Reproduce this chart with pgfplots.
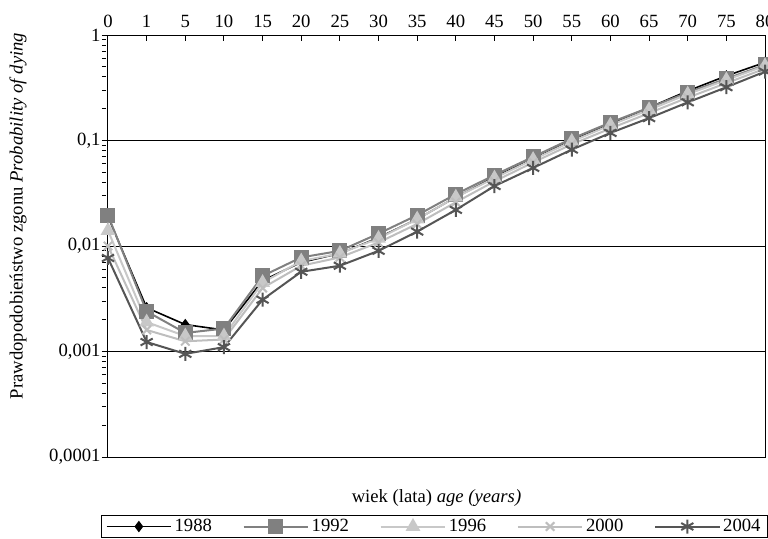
\documentclass[border=0pt]{standalone}
\usepackage{pgfplots}
\pgfplotsset{compat=1.18}
\usepackage{fontspec}
\setmainfont{Liberation Serif}
\newlength{\px}\setlength{\px}{0.75pt}
\definecolor{c88}{RGB}{0,0,0}
\definecolor{c92}{RGB}{128,128,128}
\definecolor{c96}{RGB}{200,200,200}
\definecolor{c00}{RGB}{190,190,190}
\definecolor{c04}{RGB}{85,85,85}
\begin{document}
\begin{tikzpicture}
\fontsize{14}{16.5}\selectfont
\begin{axis}[
  name=ax,
  scale only axis,
  width=657\px, height=422\px,
  ymode=log,
  ymin=1e-4, ymax=1,
  xmin=0, xmax=17,
  xtick={0,...,17},
  xticklabels={0,1,5,10,15,20,25,30,35,40,45,50,55,60,65,70,75,80},
  xticklabel pos=upper, xtick pos=upper,
  ytick pos=left,
  ytick={1e-4,1e-3,1e-2,0.1,1},
  yticklabels={{0,0001},{0,001},{0,01},{0,1},1},
  minor ytick={},
  ymajorgrids,
  major grid style={black, line width=0.8\px},
  axis line style={black, line width=1\px},
  major tick length=6\px,
  every tick/.style={black, line width=1\px},
  y tick style={xshift=-6\px},
  tick label style={font=\fontsize{14}{16.5}\selectfont},
  xticklabel style={yshift=1\px},
  yticklabel style={xshift=-1\px},
  xlabel={wiek (lata) \textit{age (years)}},
  xlabel style={at={(axis description cs:0.5,-0.098)}, anchor=center, font=\fontsize{14}{16.5}\selectfont},
  ylabel={Prawdopodobieństwo zgonu \textit{Probability of dying}},
  ylabel style={at={(axis description cs:-0.137,0.571)}, anchor=center, font=\fontsize{14}{16.5}\selectfont},
  clip=false,
  legend columns=5,
  legend style={at={(axis description cs:0.497,-0.138)}, anchor=north, draw=black, line width=1\px,
    font=\fontsize{14}{16.5}\selectfont, inner xsep=4\px, inner ysep=0.5\px,
    /tikz/every even column/.append style={column sep=28\px}},
  legend image code/.code={\draw[mark repeat=2,mark phase=2] plot coordinates {(0cm,0cm) (0.85cm,0cm) (1.7cm,0cm)};},
]
\addplot[c88, line width=1.6\px, mark=diamond*, mark size=4.5\px, mark options={solid, fill=c88}] coordinates {
(0,0.019) (1,0.0026) (2,0.0018) (3,0.0016) (4,0.0047) (5,0.0070) (6,0.0085) (7,0.012) (8,0.018) (9,0.029) (10,0.045) (11,0.067) (12,0.100) (13,0.143) (14,0.205) (15,0.295) (16,0.41) (17,0.55)};
\addlegendentry{1988}
\addplot[c92, line width=2\px, mark=square*, mark size=6.5\px, mark options={solid, fill=c92}] coordinates {
(0,0.0195) (1,0.0024) (2,0.0015) (3,0.00165) (4,0.0052) (5,0.0078) (6,0.0090) (7,0.0131) (8,0.0196) (9,0.031) (10,0.047) (11,0.070) (12,0.104) (13,0.148) (14,0.205) (15,0.285) (16,0.385) (17,0.52)};
\addlegendentry{1992}
\addplot[c96, line width=2\px, mark=triangle*, mark size=6.5\px, mark options={solid, fill=c96}] coordinates {
(0,0.0140) (1,0.0019) (2,0.0014) (3,0.0014) (4,0.0045) (5,0.0072) (6,0.0085) (7,0.0118) (8,0.0180) (9,0.029) (10,0.044) (11,0.066) (12,0.098) (13,0.140) (14,0.195) (15,0.275) (16,0.375) (17,0.51)};
\addlegendentry{1996}
\addplot[c00, line width=2\px, mark=x, mark size=6\px, mark options={solid, line width=2\px}] coordinates {
(0,0.0100) (1,0.0016) (2,0.00125) (3,0.0013) (4,0.0040) (5,0.0065) (6,0.0078) (7,0.0108) (8,0.0162) (9,0.026) (10,0.041) (11,0.062) (12,0.092) (13,0.130) (14,0.182) (15,0.255) (16,0.35) (17,0.48)};
\addlegendentry{2000}
\addplot[c04, line width=2\px, mark=asterisk, mark size=7\px, mark options={solid, line width=2\px}] coordinates {
(0,0.0077) (1,0.00123) (2,0.00095) (3,0.0011) (4,0.0031) (5,0.0057) (6,0.0065) (7,0.0090) (8,0.0137) (9,0.022) (10,0.037) (11,0.055) (12,0.082) (13,0.118) (14,0.163) (15,0.23) (16,0.32) (17,0.45)};
\addlegendentry{2004}
\end{axis}
\pgfresetboundingbox
\path (ax.south west) ++(-108\px,-82\px) rectangle ++(768\px,539\px);
\end{tikzpicture}
\end{document}
